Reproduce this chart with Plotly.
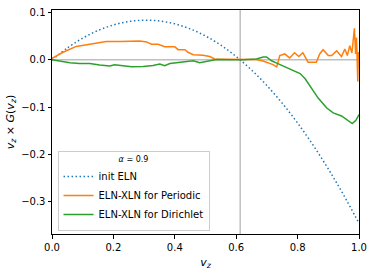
import plotly.graph_objects as go

# init ELN
vz_init = [0.0, 0.05, 0.1, 0.15, 0.2, 0.25, 0.3, 0.35, 0.4, 0.45, 0.5,
           0.55, 0.6, 0.65, 0.7, 0.75, 0.8, 0.85, 0.9, 0.95, 1.0]
init_eln = [0.0, 0.0252, 0.0459, 0.0622, 0.0739, 0.0812, 0.0840, 0.0824, 0.0763,
            0.0656, 0.0506, 0.0310, 0.0070, -0.0215, -0.0545, -0.0920, -0.1339,
            -0.1803, -0.2312, -0.2865, -0.3464]

# ELN-XLN for Periodic
vz_per = [0.0, 0.036, 0.079, 0.112, 0.145, 0.177, 0.221, 0.253, 0.286, 0.308, 0.324,
          0.346, 0.367, 0.4, 0.411, 0.433, 0.443, 0.46, 0.492, 0.514, 0.53, 0.558,
          0.59, 0.612, 0.645, 0.666, 0.69, 0.705, 0.72, 0.732, 0.742, 0.758, 0.774,
          0.79, 0.804, 0.817, 0.834, 0.861, 0.872, 0.883, 0.9, 0.911, 0.927, 0.943,
          0.954, 0.962, 0.97, 0.977, 0.985, 0.989, 0.992, 0.996, 0.998, 1.0]
eln_periodic = [0.003, 0.016, 0.0285, 0.032, 0.0368, 0.039, 0.039, 0.040, 0.040, 0.038,
                0.033, 0.033, 0.028, 0.0275, 0.0215, 0.0215, 0.016, 0.011, 0.0097, 0.007,
                0.002, 0.0015, 0.001, 0.0, 0.0, 0.0005, -0.003, -0.006, -0.010, -0.015,
                0.009, 0.0125, 0.004, 0.015, 0.007, 0.015, -0.005, -0.005, 0.0125, 0.0215,
                0.009, 0.009, 0.019, 0.007, 0.023, 0.009, 0.030, 0.0146, 0.067, 0.0125,
                0.047, -0.046, 0.016, 0.012]

# ELN-XLN for Dirichlet
vz_dir = [0.0, 0.025, 0.058, 0.09, 0.123, 0.155, 0.188, 0.204, 0.226, 0.259, 0.297,
          0.329, 0.351, 0.367, 0.384, 0.416, 0.46, 0.481, 0.503, 0.536, 0.58, 0.623,
          0.666, 0.688, 0.699, 0.715, 0.732, 0.742, 0.759, 0.781, 0.808, 0.824, 0.846,
          0.867, 0.895, 0.916, 0.943, 0.965, 0.978, 0.99, 1.0]
eln_dirichlet = [0.0, -0.003, -0.0063, -0.0076, -0.008, -0.011, -0.013, -0.0104, -0.0125,
                 -0.0145, -0.014, -0.012, -0.009, -0.0125, -0.0078, -0.006, -0.002, -0.006,
                 -0.003, 0.0007, 0.0, 0.0, 0.002, 0.006, 0.006, -0.002, -0.007, -0.010,
                 -0.015, -0.022, -0.029, -0.0395, -0.060, -0.081, -0.102, -0.1125, -0.119,
                 -0.130, -0.135, -0.128, -0.116]

vz_cross = 0.613
x_ticks = [0.0, 0.2, 0.4, 0.6, 0.8, 1.0]
y_ticks = [0.1, 0.0, -0.1, -0.2, -0.3]

FONT = "DejaVu Sans"

fig = go.Figure()
fig.add_trace(go.Scatter(x=vz_init, y=init_eln, mode="lines", name="init ELN",
                         line=dict(color="#1f77b4", width=1.5, dash="1.5px,2.5px",
                                   shape="spline")))
fig.add_trace(go.Scatter(x=vz_per, y=eln_periodic, mode="lines", name="ELN-XLN for Periodic",
                         line=dict(color="#ff7f0e", width=1.5)))
fig.add_trace(go.Scatter(x=vz_dir, y=eln_dirichlet, mode="lines", name="ELN-XLN for Dirichlet",
                         line=dict(color="#2ca02c", width=1.5)))

fig.add_shape(type="line", xref="x", yref="paper", x0=vz_cross, x1=vz_cross, y0=0, y1=1,
              line=dict(color="rgba(128,128,128,0.5)", width=1.5), layer="below")
fig.add_shape(type="line", xref="paper", yref="y", x0=0, x1=1, y0=0, y1=0,
              line=dict(color="rgba(128,128,128,0.5)", width=1.5), layer="below")

fig.update_layout(
    width=374, height=273,
    margin=dict(l=52, r=15, t=7, b=38),
    paper_bgcolor="white", plot_bgcolor="white",
    font=dict(family=FONT, size=10, color="black"),
    showlegend=True,
    legend=dict(
        x=0.018, y=0.015, xanchor="left", yanchor="bottom",
        bgcolor="rgba(255,255,255,0.8)", bordercolor="#cccccc", borderwidth=1,
        font=dict(family=FONT, size=10),
        title=dict(text="<i>α</i> = 0.9", side="top center", font=dict(family=FONT, size=8)),
        itemwidth=30, tracegroupgap=0,
    ),
    xaxis=dict(
        range=[0, 1], tickvals=x_ticks, ticktext=[f"{t:.1f}" for t in x_ticks],
        showline=True, linecolor="black", linewidth=1, mirror=True,
        ticks="outside", ticklen=3.5, tickcolor="black", showgrid=False, zeroline=False,
        title=dict(text="<i>v<sub>z</sub></i>", font=dict(family=FONT, size=11), standoff=6),
    ),
    yaxis=dict(
        range=[-0.369, 0.1056], tickvals=y_ticks,
        ticktext=[f"{t:.1f}".replace("-", "\u2212") for t in y_ticks],
        showline=True, linecolor="black", linewidth=1, mirror=True,
        ticks="outside", ticklen=3.5, tickcolor="black", showgrid=False, zeroline=False,
        title=dict(text="<i>v<sub>z</sub></i> × <i>G</i>(<i>v<sub>z</sub></i>)",
                   font=dict(family=FONT, size=11), standoff=4),
    ),
)

fig.write_html("out.html", config={"displayModeBar": False},
               post_script="document.body.style.margin='0';document.body.style.padding='0';")
